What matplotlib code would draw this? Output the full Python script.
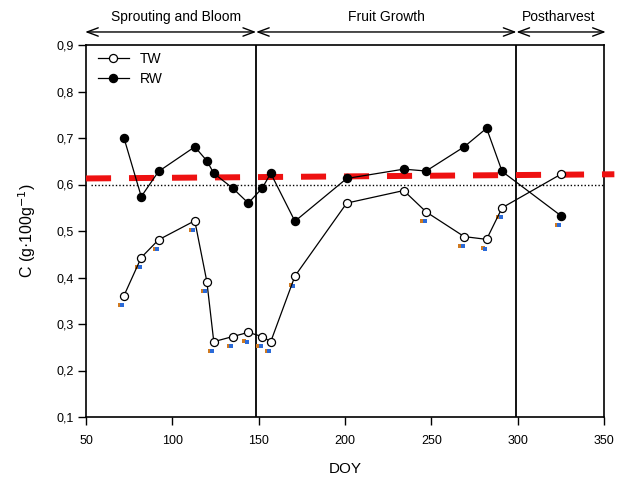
import matplotlib
matplotlib.use('Agg')
import matplotlib.pyplot as plt
import matplotlib.transforms as mtransforms
from matplotlib.ticker import FuncFormatter

# DOY of each sampling
doy = [72, 82, 92, 113, 120, 124, 135, 144, 152, 157, 171, 201, 234, 247, 269, 282, 291, 325]

tw_values = [0.361, 0.443, 0.481, 0.522, 0.391, 0.262, 0.273, 0.282, 0.273, 0.262,
             0.403, 0.560, 0.587, 0.541, 0.488, 0.482, 0.550, 0.622]
rw_values = [0.700, 0.574, 0.628, 0.681, 0.651, 0.624, 0.592, 0.560, 0.592, 0.624,
             0.521, 0.613, 0.633, 0.629, 0.681, 0.721, 0.628, 0.533]

# significance marks (True = asterisk under the point)
tw_signif = [True] * 11 + [False, False, True, True, True, True, False]
rw_signif = [False] * 17 + [True]

reference_level = 0.6
red_line_x = [50, 356]
red_line_y = [0.613, 0.622]

phase_bounds = [49.5, 148.5, 299.3, 351]
phase_names = ['Sprouting and Bloom', 'Fruit Growth', 'Postharvest']
phase_label_x = [102, 224, 324]

plt.rcParams['font.family'] = ['Liberation Sans', 'DejaVu Sans']

fig = plt.figure(figsize=(6.19, 4.79), dpi=100)
ax = fig.add_axes([86 / 619, 62 / 479, 518 / 619, 372 / 479])

# reference lines
ax.axhline(reference_level, xmin=0.01, xmax=1.0, color='black', lw=1.0, ls=(0, (1, 1.5)))
red, = ax.plot(red_line_x, red_line_y, color='#ee1111', lw=4.3, clip_on=False, zorder=5)
red.set_dashes((4.2, 3.0))
red.set_dash_capstyle('butt')

for xv in phase_bounds[1:3]:
    ax.axvline(xv, color='black', lw=1.3)

# series
ax.plot(doy, tw_values, color='black', lw=0.9, marker='o', ms=5.8,
        mfc='white', mec='black', mew=0.9, label='TW', zorder=6)
ax.plot(doy, rw_values, color='black', lw=0.9, marker='o', ms=5.8,
        mfc='black', mec='black', label='RW', zorder=6)

# small asterisks drawn below the points
orange_tr = mtransforms.offset_copy(ax.transData, fig=fig, x=-4, y=-9, units='dots')
blue_tr = mtransforms.offset_copy(ax.transData, fig=fig, x=-1.5, y=-9.5, units='dots')
for xs, ys, flags in [(doy, tw_values, tw_signif), (doy, rw_values, rw_signif)]:
    px = [x for x, f in zip(xs, flags) if f]
    py = [y for y, f in zip(ys, flags) if f]
    ax.plot(px, py, ls='none', marker='s', ms=2.6, color='#d07a20', mew=0, transform=orange_tr, zorder=4)
    ax.plot(px, py, ls='none', marker='s', ms=2.6, color='#2a6ad8', mew=0, transform=blue_tr, zorder=4)

ax.set_xlim(50, 350)
ax.set_ylim(0.1, 0.9)
ax.set_xticks(range(50, 351, 50))
ax.set_yticks([0.1, 0.2, 0.3, 0.4, 0.5, 0.6, 0.7, 0.8, 0.9])
ax.yaxis.set_major_formatter(FuncFormatter(lambda v, p: ('%.1f' % v).replace('.', ',')))
ax.tick_params(direction='out', length=6, width=1, labelsize=9, pad=3)
ax.tick_params(axis='x', pad=7)
for s in ax.spines.values():
    s.set_linewidth(1.2)

ax.set_xlabel('DOY', fontsize=11, labelpad=11)
ax.set_ylabel('C (g·100g$^{-1}$)', fontsize=11.5, labelpad=13)

leg = ax.legend(loc='upper left', frameon=False, fontsize=10, handlelength=2.2,
                borderaxespad=0.1, bbox_to_anchor=(0.01, 1.0), labelspacing=0.45)

# phase arrows above the plot
trans = mtransforms.blended_transform_factory(ax.transData, ax.transAxes)
for i in range(3):
    ax.annotate('', xy=(phase_bounds[i], 1.035), xytext=(phase_bounds[i + 1], 1.035),
                xycoords=trans, textcoords=trans, annotation_clip=False,
                arrowprops=dict(arrowstyle='<->,head_length=0.8,head_width=0.3',
                                color='black', lw=1.0, shrinkA=0, shrinkB=0))
    ax.text(phase_label_x[i], 1.075, phase_names[i], transform=trans,
            ha='center', va='center', fontsize=10)

fig.savefig('out.png', dpi=100)
